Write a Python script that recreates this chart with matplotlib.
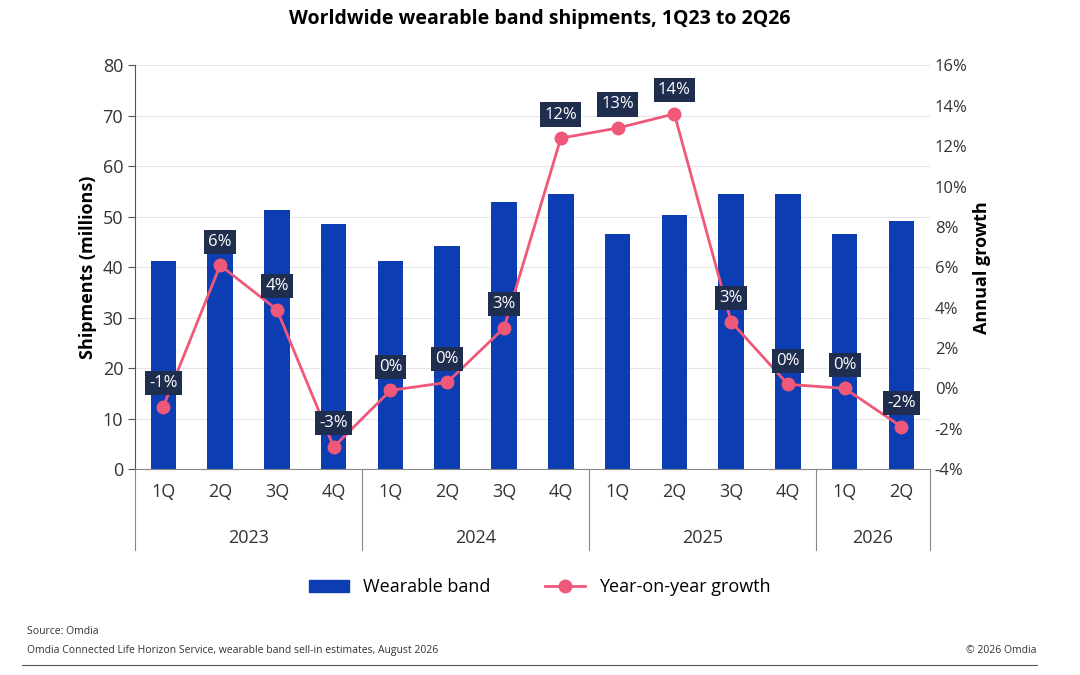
import matplotlib
matplotlib.use("Agg")
import matplotlib.pyplot as plt
import numpy as np

quarters = ["1Q","2Q","3Q","4Q","1Q","2Q","3Q","4Q","1Q","2Q","3Q","4Q","1Q","2Q"]
years = ["2023","2024","2025","2026"]
year_sizes = [4,4,4,2]
shipments = [41.2,44.3,51.3,48.5,41.2,44.3,53.0,54.6,46.6,50.4,54.6,54.6,46.6,49.2]
growth = [-0.9,6.1,3.9,-2.9,-0.1,0.3,3.0,12.4,12.9,13.6,3.3,0.2,0.0,-1.9]
growth_labels = ["-1%","6%","4%","-3%","0%","0%","3%","12%","13%","14%","3%","0%","0%","-2%"]

plt.rcParams['font.family'] = ['Open Sans','DejaVu Sans']
fig = plt.figure(figsize=(10.8,6.75), dpi=100)
ax = fig.add_axes([0.125, 0.305, 0.736, 0.598])
x = np.arange(len(quarters))
ax.bar(x, shipments, width=0.45, color="#0C3DB2", zorder=2)
ax.set_ylim(0,80); ax.set_yticks(range(0,81,10))
ax.set_xlim(-0.5, len(x)-0.5)
ax.set_xticks(x); ax.set_xticklabels(quarters, fontsize=13, color="#333333")
ax.tick_params(axis='x', length=0, pad=10)
ax.tick_params(axis='y', labelsize=13, colors="#333333", length=5, color="#555555")
ax.set_ylabel("Shipments (millions)", fontsize=13, fontweight='bold')
for s in ["top","right"]:
    ax.spines[s].set_visible(False)
ax.spines['bottom'].set_color("#888888")
ax.spines['left'].set_color("#555555")
ax.grid(axis='y', color="#e6e6e6", lw=0.8, zorder=0)

ax2 = ax.twinx()
ax2.set_ylim(-4,16); ax2.set_yticks(range(-4,17,2))
ax2.set_yticklabels([f"{v}%" for v in range(-4,17,2)])
ax2.tick_params(axis='y', labelsize=12, colors="#333333", length=0)
ax2.set_ylabel("Annual growth", fontsize=13, fontweight='bold')
for s in ["top","right","left","bottom"]:
    ax2.spines[s].set_visible(False)
ax2.plot(x, growth, color="#F0587A", lw=2, marker='o', ms=9, zorder=3)
for xi, g, lab in zip(x, growth, growth_labels):
    ax2.annotate(lab, (xi, g), xytext=(0, 17), textcoords='offset points',
                 ha='center', va='center', fontsize=12, color='white',
                 bbox=dict(boxstyle='square,pad=0.25', fc="#1F2D4F", ec='none'))

trans = ax.get_xaxis_transform()
bounds = np.cumsum([0]+year_sizes) - 0.5
for b in bounds:
    ax.plot([b,b],[0,-0.2],transform=trans,color="#888888",lw=0.8,clip_on=False)
for i,y in enumerate(years):
    c = (bounds[i]+bounds[i+1])/2
    ax.text(c,-0.17,y,transform=trans,ha='center',va='center',fontsize=13,color="#333333")

fig.text(0.5,0.972,"Worldwide wearable band shipments, 1Q23 to 2Q26",ha='center',va='center',
         fontsize=14,fontweight='bold')
from matplotlib.patches import Patch
from matplotlib.lines import Line2D
handles=[Patch(color="#0C3DB2",label="Wearable band"),
         Line2D([],[],color="#F0587A",lw=2,marker='o',ms=9,label="Year-on-year growth")]
fig.legend(handles=handles,loc='center',bbox_to_anchor=(0.5,0.13),ncol=2,frameon=False,
           fontsize=13,handlelength=2.2,columnspacing=3)
fig.text(0.025,0.06,"Source: Omdia",fontsize=7.5,color="#333333")
fig.text(0.025,0.033,"Omdia Connected Life Horizon Service, wearable band sell-in estimates, August 2026",fontsize=7.5,color="#333333")
fig.text(0.96,0.033,"© 2026 Omdia",fontsize=7.5,color="#333333",ha='right')
fig.add_artist(Line2D([0.02,0.96],[0.015,0.015],color="#555555",lw=0.8))
fig.savefig("out.png")
